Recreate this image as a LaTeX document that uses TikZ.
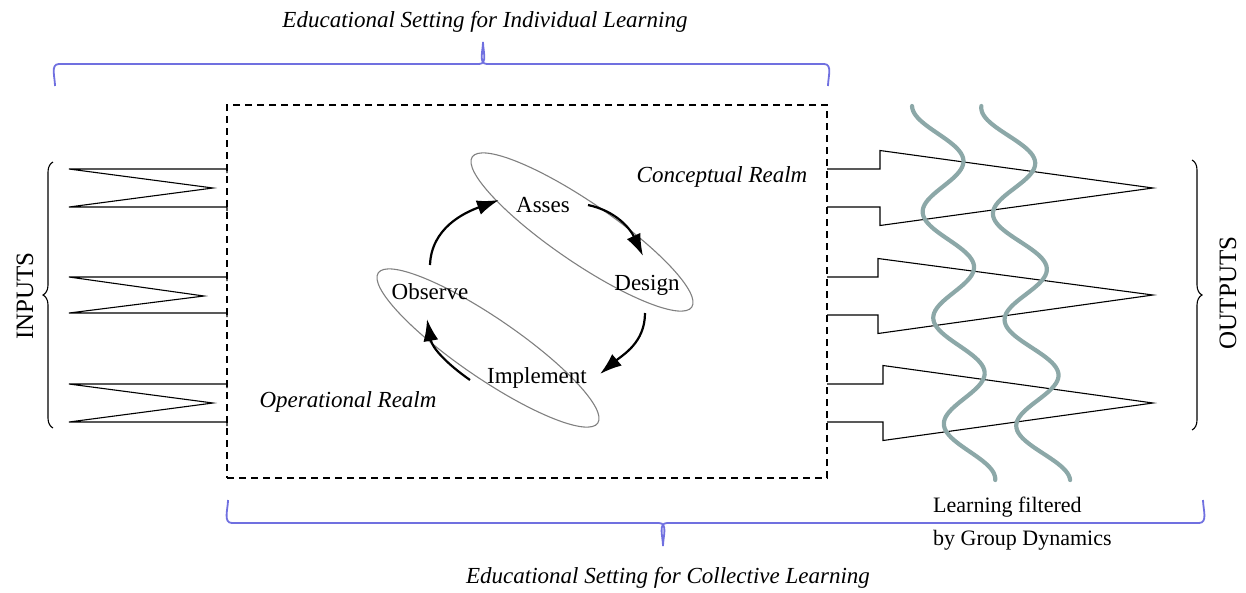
\documentclass[tikz,border=0pt]{standalone}
\usepackage{fontspec}
\setmainfont{Liberation Serif}
\usetikzlibrary{arrows.meta,shapes.geometric,decorations.pathreplacing}
\definecolor{bracketblue}{RGB}{112,112,224}
\definecolor{filtergray}{RGB}{140,168,168}
\definecolor{realmgray}{RGB}{128,128,128}
\begin{document}
\begin{tikzpicture}[x=1pt,y=1pt,
  lbl/.style={font=\fontsize{23}{27}\selectfont, inner sep=0pt},
  ital/.style={font=\fontsize{23}{27}\selectfont\itshape, inner sep=0pt},
  side/.style={font=\fontsize{25}{30}\selectfont, inner sep=0pt, rotate=90},
  realm/.style={draw=realmgray, line width=1.1pt, ellipse, minimum width=266pt,
                minimum height=60pt, inner sep=0pt, rotate=-34.4},
  cyc/.style={-{Latex[length=22pt,width=15pt]}, line width=2.2pt},
  flow/.style={line width=1.1pt, line join=miter},
  filter/.style={filtergray, line width=4.2pt, line cap=round},
  group/.style={bracketblue, line width=1.8pt},
  curly/.style={decorate, decoration={brace, amplitude=10pt}, line width=1.1pt},
  frame/.style={draw, line width=1.3pt, dash pattern=on 7pt off 5pt,
                minimum width=600pt, minimum height=373pt, inner sep=0pt},
]
\useasboundingbox (0,0) rectangle (1246,-592);

% top and bottom groupings
\node[ital] (indiv) at (485,-22) {Educational Setting for Individual Learning};
\draw[group] (55,-86) to[out=90,in=180] (59,-64) -- (479,-64)
  to[out=0,in=-90] (483,-42) to[out=-90,in=180] (487,-64) -- (824,-64)
  to[out=0,in=90] (828,-86);
\node[ital] (coll) at (668,-578) {Educational Setting for Collective Learning};
\draw[group] (228,-500) to[out=-90,in=180] (232,-523) -- (659,-523)
  to[out=0,in=90] (663,-546) to[out=90,in=180] (667,-523) -- (1199,-523)
  to[out=0,in=-90] (1203,-500);

% learning setting
\node[frame] (core) at (527,-291.5) {};

% input flows
\foreach \t/\m/\b/\tx in {169/188/207/213, 277/296/313/204, 384/403/422/213}
  \draw[flow] (227,-\t-4) -- (227,-\t) -- (69,-\t) -- (\tx,-\m) -- (69,-\b)
    -- (227,-\b) -- (227,-\b-4);
\draw[curly] (53,-428) -- (53,-162);
\node[side] (inputs) at (25,-296) {INPUTS};

% output flows
\foreach \t/\b/\n/\tip in {169/207/880/188, 277/315/878/295, 384/422/883/403}
  \draw[flow] (827,-\t) -- (\n,-\t) -- (\n,-\t+18.5) -- (1153,-\tip)
    -- (\n,-\b-18.5) -- (\n,-\b) -- (827,-\b);
\draw[curly] (1192,-160) -- (1192,-430);
\node[side] (outputs) at (1228,-293) {OUTPUTS};

% group dynamics filters (period 106, i.e. 3.396 degrees per unit)
\draw[filter] plot[domain=106:480, samples=160, variable=\s]
  ({943+0.1*(\s-186)+23*cos(3.396*(\s-160))}, {-\s});
\draw[filter] plot[domain=106:480, samples=160, variable=\s]
  ({1014+0.11*(\s-188)+24*cos(3.396*(\s-162))}, {-\s});
\node[lbl, align=left, anchor=west, font=\fontsize{22}{33}\selectfont] (filt)
  at (933,-523.5) {Learning filtered\\by Group Dynamics};

% realms
\node[realm] (concept) at (582,-232) {};
\node[realm] (oper) at (488,-348) {};
\node[ital] (conlbl) at (722,-177) {Conceptual Realm};
\node[ital] (oplbl) at (348,-402) {Operational Realm};

% learning cycle
\node[lbl] (ass) at (543,-205) {Asses};
\node[lbl] (des) at (647,-285) {Design};
\node[lbl] (obs) at (430,-292) {Observe};
\node[lbl] (imp) at (537,-378) {Implement};
\draw[cyc] ([shift={(0,27)}]obs.center) to[out=88,in=200] ([shift={(-44,5)}]ass.center);
\draw[cyc] ([shift={(45,0)}]ass.center) to[out=-12,in=115] ([shift={(-4,29)}]des.center);
\draw[cyc] ([shift={(-2,-28)}]des.center) to[out=-90,in=40] ([shift={(63,4)}]imp.center);
\draw[cyc] ([shift={(-67,-2)}]imp.center) to[out=145,in=-80] ([shift={(-3,-27)}]obs.center);
\end{tikzpicture}
\end{document}
